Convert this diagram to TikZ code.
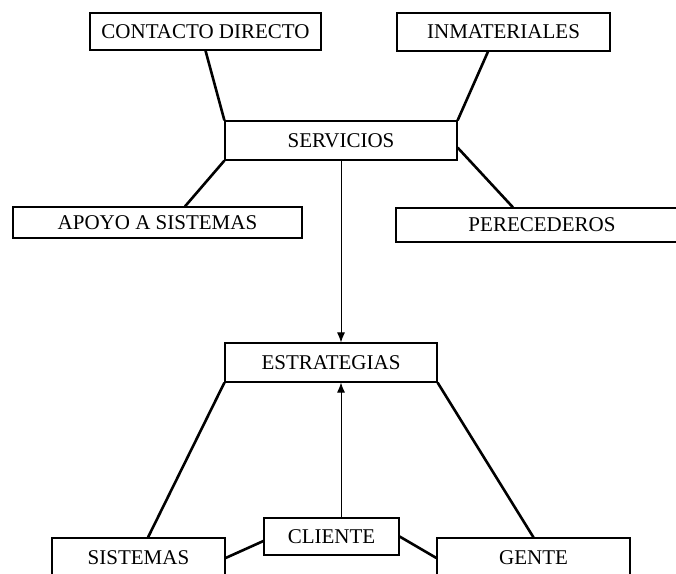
\documentclass[tikz,border=0pt]{standalone}
\usepackage{fontspec}
\setmainfont{Liberation Serif}
\usetikzlibrary{arrows.meta}
\begin{document}
\begin{tikzpicture}[x=1pt,y=-1pt,
  box/.style={draw, line width=1.2pt, inner sep=0pt, anchor=center,
    font=\fontsize{21}{24}\selectfont},
  link/.style={line width=2.6pt},
  flow/.style={line width=0.9pt, -{Latex[length=10pt,width=8pt]}}]
\useasboundingbox (0,0) rectangle (676,573);
\clip (0,0) rectangle (676,573);
\fill[white] (0,0) rectangle (676,573);

% upper group
\node[box, minimum width=231pt, minimum height=37pt] (cd)    at (205.5,31.5) {CONTACTO DIRECTO};
\node[box, minimum width=213pt, minimum height=38pt] (inm)   at (503.5,32)   {INMATERIALES};
\node[box, minimum width=232pt, minimum height=39pt] (serv)  at (341,140.5)  {SERVICIOS};
\node[box, minimum width=289pt, minimum height=31pt] (apoyo) at (157.5,222.5){APOYO A SISTEMAS};
\node[box, minimum width=292pt, minimum height=34pt] (perec) at (542,225)    {PERECEDEROS};

% lower group
\node[box, minimum width=212pt, minimum height=39pt] (estr)  at (331,362.5)  {ESTRATEGIAS};
\node[box, minimum width=173pt, minimum height=40pt] (sist)  at (138.5,558)  {SISTEMAS};
\node[box, minimum width=135pt, minimum height=37pt] (cli)   at (331.5,536.5){CLIENTE};
\node[box, minimum width=193pt, minimum height=40pt] (gente) at (533.5,558)  {GENTE};

% spokes around SERVICIOS
\draw[link] (cd.south) -- (serv.north west);
\draw[link] ([xshift=-15.5pt]inm.south) -- (serv.north east);
\draw[link] (serv.south west) -- ([xshift=27.5pt]apoyo.north);
\draw[link] ([yshift=13pt]serv.south east) -- ([xshift=-29pt]perec.north);

% spokes around ESTRATEGIAS and CLIENTE
\draw[link] (estr.south west) -- ([xshift=9.5pt]sist.north);
\draw[link] (estr.south east) -- (gente.north);
\draw[link] ([yshift=-4.5pt]cli.west) -- (sist.east);
\draw[link] (cli.east) -- (gente.west);

% flows into ESTRATEGIAS
\draw[flow] (serv.south) -- (serv.south |- estr.north);
\draw[flow] (serv.south |- cli.north) -- (serv.south |- estr.south);
\end{tikzpicture}
\end{document}
